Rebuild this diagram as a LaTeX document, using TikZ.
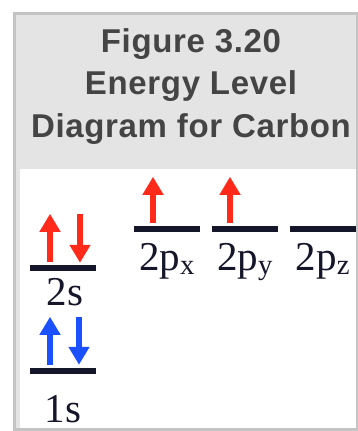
\documentclass[tikz,border=0pt]{standalone}
\usepackage{fontspec}
\setmainfont{Liberation Serif}
\newfontfamily\titlefont{Liberation Sans}[LetterSpace=2]
\usepackage{xcolor}
\definecolor{framegray}{HTML}{C4C4C4}
\definecolor{headgray}{HTML}{E4E4E4}
\definecolor{titlegray}{HTML}{444444}
\definecolor{spinred}{HTML}{FF2A1A}
\definecolor{spinblue}{HTML}{1A50FF}
\definecolor{levelink}{HTML}{16162A}
\usetikzlibrary{
  positioning,
  arrows.meta
}

\begin{document}
\begin{tikzpicture}[
  x=1pt, y=-1pt,
  level/.style={
    rectangle, fill=levelink, minimum width=66pt, minimum height=6pt,
    inner sep=0pt
  },
  spin/.style={
    line width=6pt, -{Triangle[length=18pt, width=20pt]}
  },
  title/.style={
    anchor=base, inner sep=0pt, text=titlegray,
    font=\titlefont\bfseries\fontsize{33}{40}\selectfont
  },
  orbital/.style={
    anchor=base, inner sep=0pt, text=levelink,
    font=\fontsize{41}{48}\selectfont
  }
]
\useasboundingbox (0,0) rectangle (358,431);

% frame and heading
\filldraw[fill=headgray, draw=framegray, line width=3pt]
  (14.5,13.5) rectangle (357.5,429.5);
\fill[white] (20,169) rectangle (356,428);

\node[title] (head1) at (191,52) {Figure 3.20};
\node[title] (head2) at (191,94.5) {Energy Level};
\node[title] (head3) at (191,137) {Diagram for Carbon};

% levels
\node[level] (lvl1s) at (63,371) {};
\node[level] (lvl2s) at (63,268) {};
\node[level] (lvl2px) at (167,229) {};
\node[level] (lvl2py) at (245,229) {};
\node[level] (lvl2pz) at (323,229) {};

\node[orbital] (lab1s) at ([yshift=-51pt]lvl1s.center) {1s};
\node[orbital] (lab2s) at ([xshift=2pt, yshift=-37pt]lvl2s.center) {2s};
\node[orbital] (lab2px) at ([yshift=-41pt]lvl2px.center) {2p\textsubscript{x}};
\node[orbital] (lab2py) at ([yshift=-41pt]lvl2py.center) {2p\textsubscript{y}};
\node[orbital] (lab2pz) at ([yshift=-41pt]lvl2pz.center) {2p\textsubscript{z}};

% electrons
\draw[spin, spinblue] ([xshift=-13pt, yshift=3pt]lvl1s.north) -- ++(0,-48);
\draw[spin, spinblue] ([xshift=16pt, yshift=51pt]lvl1s.north) -- ++(0,48);
\draw[spin, spinred] ([xshift=-13pt, yshift=3pt]lvl2s.north) -- ++(0,-48);
\draw[spin, spinred] ([xshift=17pt, yshift=51pt]lvl2s.north) -- ++(0,49);
\draw[spin, spinred] ([xshift=-14pt, yshift=3pt]lvl2px.north) -- ++(0,-46);
\draw[spin, spinred] ([xshift=-15pt, yshift=3pt]lvl2py.north) -- ++(0,-46);

\end{tikzpicture}
\end{document}
